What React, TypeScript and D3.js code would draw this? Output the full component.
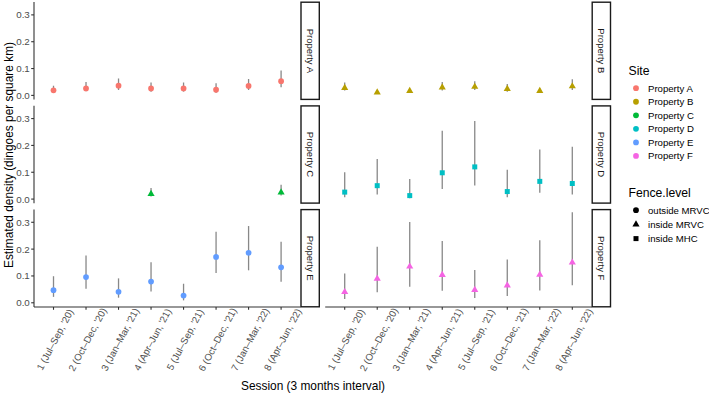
import { useEffect, useRef } from "react";
import * as d3 from "d3";

// sessions (x categories)
const sessions = [
  "1 (Jul–Sep, '20)",
  "2 (Oct–Dec, '20)",
  "3 (Jan–Mar, '21)",
  "4 (Apr–Jun, '21)",
  "5 (Jul–Sep, '21)",
  "6 (Oct–Dec, '21)",
  "7 (Jan–Mar, '22)",
  "8 (Apr–Jun, '22)",
];

const sites = ["Property A", "Property B", "Property C", "Property D", "Property E", "Property F"];
const siteColors = ["#F8766D", "#B79F00", "#00BA38", "#00BFC4", "#619CFF", "#F564E3"];
const fenceLevels = ["outside MRVC", "inside MRVC", "inside MHC"];
const siteFence = ["outside MRVC", "inside MRVC", "inside MRVC", "inside MHC", "outside MRVC", "inside MRVC"];

// estimated density per site (rows) and session (cols)
const estimate: (number | null)[][] = [
  [0.019, 0.026, 0.036, 0.026, 0.026, 0.021, 0.035, 0.053],
  [0.028, 0.011, 0.017, 0.030, 0.032, 0.024, 0.017, 0.034],
  [null, null, null, 0.019, null, null, null, 0.025],
  [0.026, 0.050, 0.013, 0.098, 0.120, 0.028, 0.066, 0.058],
  [0.047, 0.096, 0.041, 0.079, 0.027, 0.171, 0.186, 0.132],
  [0.040, 0.090, 0.135, 0.104, 0.048, 0.065, 0.105, 0.150],
];
const lower: (number | null)[][] = [
  [0.010, 0.015, 0.020, 0.014, 0.014, 0.010, 0.020, 0.030],
  [0.018, 0.007, 0.012, 0.018, 0.020, 0.014, 0.010, 0.020],
  [null, null, null, 0.010, null, null, null, 0.013],
  [0.007, 0.017, 0.003, 0.038, 0.051, 0.007, 0.024, 0.017],
  [0.022, 0.052, 0.019, 0.042, 0.009, 0.111, 0.121, 0.078],
  [0.014, 0.039, 0.060, 0.045, 0.018, 0.025, 0.046, 0.065],
];
const upper: (number | null)[][] = [
  [0.036, 0.050, 0.063, 0.048, 0.048, 0.045, 0.061, 0.093],
  [0.048, 0.016, 0.024, 0.050, 0.053, 0.042, 0.026, 0.060],
  [null, null, null, 0.041, null, null, null, 0.053],
  [0.100, 0.149, 0.075, 0.255, 0.291, 0.109, 0.185, 0.195],
  [0.099, 0.176, 0.091, 0.151, 0.071, 0.265, 0.286, 0.227],
  [0.109, 0.209, 0.301, 0.230, 0.122, 0.161, 0.233, 0.337],
];
const yTicks = [0, 0.1, 0.2, 0.3];

const W = 709;
const H = 395;
const FONT = "'Liberation Sans', Arial, Helvetica, sans-serif";

const App = () => {
  const ref = useRef<SVGSVGElement | null>(null);

  useEffect(() => {
    document.body.style.margin = "0";
    const svg = d3.select(ref.current);
    svg.selectAll("*").remove();

    const panelLefts = [34, 325.2];
    const panelTops = [2, 105.7, 209.4];
    const panelW = 266.6;
    const panelH = 97.6;
    const stripW = 18.3;

    const x = d3.scalePoint<string>().domain(sessions).range([0, panelW]).padding(0.6);
    const y = d3.scaleLinear().domain([-0.0157, 0.348]).range([panelH, 0]);
    const color = d3.scaleOrdinal<string, string>(sites, siteColors);
    const shape = d3.scaleOrdinal<string, d3.SymbolType>(fenceLevels, [d3.symbolCircle, d3.symbolTriangle, d3.symbolSquare]);
    const shapeSize = d3.scaleOrdinal<string, number>(fenceLevels, [26, 22, 25]);

    sites.forEach((site, si) => {
      const col = si % 2;
      const row = Math.floor(si / 2);
      const g = svg.append("g").attr("transform", `translate(${panelLefts[col]},${panelTops[row]})`);

      // y axis on left column
      if (col === 0) {
        g.append("line").attr("x1", 0).attr("x2", 0).attr("y1", 0).attr("y2", panelH)
          .attr("stroke", "#333").attr("stroke-width", 1.1);
        const t = g.selectAll(".yt").data(yTicks).join("g").attr("transform", d => `translate(0,${y(d)})`);
        t.append("line").attr("x1", -2.8).attr("x2", 0).attr("stroke", "#333").attr("stroke-width", 1.1);
        t.append("text").attr("x", -4.2).attr("dy", "0.35em").attr("text-anchor", "end")
          .attr("font-family", FONT).attr("font-size", 9.8).attr("fill", "#4D4D4D")
          .text(d => d3.format(".1f")(d));
      }

      // x axis on bottom row
      if (row === 2) {
        g.append("line").attr("x1", 0).attr("x2", panelW).attr("y1", panelH).attr("y2", panelH)
          .attr("stroke", "#333").attr("stroke-width", 1.1);
        const t = g.selectAll(".xt").data(sessions).join("g").attr("transform", d => `translate(${x(d)},${panelH})`);
        t.append("line").attr("y1", 0).attr("y2", 2.8).attr("stroke", "#333").attr("stroke-width", 1.1);
        t.append("text")
          .attr("transform", "translate(1.5,32.5) rotate(-62)")
          .attr("text-anchor", "middle").attr("dy", "0.35em")
          .attr("font-family", FONT).attr("font-size", 9.7).attr("fill", "#4D4D4D")
          .text(d => d);
      }

      // strip
      g.append("rect").attr("x", panelW + 0.4).attr("y", 0.2).attr("width", stripW).attr("height", panelH - 0.4)
        .attr("fill", "white").attr("stroke", "#1A1A1A").attr("stroke-width", 1.4);
      g.append("text")
        .attr("transform", `translate(${panelW + 0.4 + stripW / 2},${panelH / 2}) rotate(90)`)
        .attr("text-anchor", "middle").attr("dy", "0.35em")
        .attr("font-family", FONT).attr("font-size", 9.5).attr("fill", "#1A1A1A")
        .text(site);

      const idx = d3.range(sessions.length).filter(i => estimate[si][i] !== null);

      // error bars
      g.selectAll(".err").data(idx).join("line")
        .attr("x1", i => x(sessions[i])!).attr("x2", i => x(sessions[i])!)
        .attr("y1", i => y(lower[si][i] as number)).attr("y2", i => y(upper[si][i] as number))
        .attr("stroke", "#888").attr("stroke-width", 1.3);

      // points
      const sym = d3.symbol().type(shape(siteFence[si])).size(shapeSize(siteFence[si]));
      g.selectAll(".pt").data(idx).join("path")
        .attr("transform", i => `translate(${x(sessions[i])},${y(estimate[si][i] as number)})`)
        .attr("d", sym()!)
        .attr("fill", color(site));
    });

    // axis titles
    svg.append("text")
      .attr("x", 313).attr("y", 389.5)
      .attr("text-anchor", "middle").attr("font-family", FONT).attr("font-size", 11.9).attr("fill", "black")
      .text("Session (3 months interval)");
    svg.append("text")
      .attr("transform", "translate(12.5,155) rotate(-90)")
      .attr("text-anchor", "middle").attr("font-family", FONT).attr("font-size", 11.9).attr("fill", "black")
      .text("Estimated density (dingoes per square km)");

    // legends
    const lg = svg.append("g").attr("font-family", FONT);
    lg.append("text").attr("x", 628.5).attr("y", 74.5).attr("font-size", 12.2).text("Site");
    const siteRows = lg.selectAll(".sr").data(sites).join("g")
      .attr("transform", (_, i) => `translate(636,${88.2 + i * 13.55})`);
    siteRows.append("path").attr("d", d3.symbol().type(d3.symbolCircle).size(26)()!).attr("fill", d => color(d));
    siteRows.append("text").attr("x", 12).attr("dy", "0.35em").attr("font-size", 9.6).attr("fill", "black").text(d => d);

    lg.append("text").attr("x", 628.5).attr("y", 196.8).attr("font-size", 12.2).text("Fence.level");
    const fenceRows = lg.selectAll(".fr").data(fenceLevels).join("g")
      .attr("transform", (_, i) => `translate(636,${210.2 + i * 14.2})`);
    fenceRows.append("path").attr("d", d => d3.symbol().type(shape(d)).size(shapeSize(d))()!).attr("fill", "black");
    fenceRows.append("text").attr("x", 12).attr("dy", "0.35em").attr("font-size", 9.6).attr("fill", "black").text(d => d);
  }, []);

  return <svg ref={ref} width={W} height={H} style={{ display: "block", background: "white" }} />;
};

export default App;
